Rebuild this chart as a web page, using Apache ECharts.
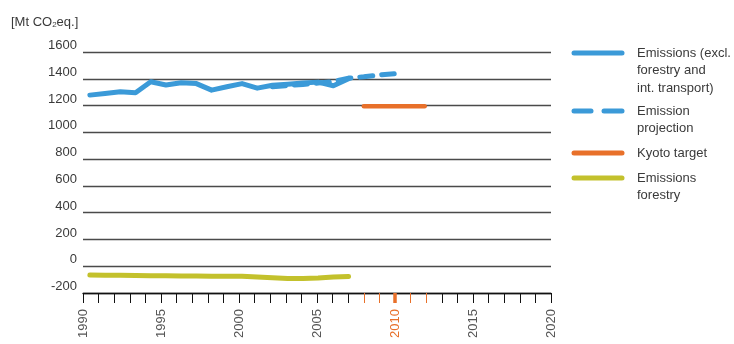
<!DOCTYPE html>
<html>
<head>
<meta charset="utf-8">
<script src="https://cdn.jsdelivr.net/npm/echarts@6/dist/echarts.min.js"></script>
<style>
  html, body { margin: 0; padding: 0; background: #fff; }
  #chart { width: 734px; height: 344px; }
</style>
</head>
<body>
<div id="chart"></div>
<script>
// Axis years 1990–2020 (tick every year, label every five)
const axisYears = [];
for (let y = 1990; y <= 2020; y++) axisYears.push(y);

// Greenhouse gas emissions, Mt CO2 eq.
const emissionYears = [1990, 1991, 1992, 1993, 1994, 1995, 1996, 1997, 1998,
                       1999, 2000, 2001, 2002, 2003, 2004, 2005, 2006, 2007];
const emissions = [1278, 1290, 1303, 1296, 1378, 1354, 1370, 1364, 1315,
                   1340, 1364, 1330, 1352, 1360, 1368, 1375, 1348, 1400];
const forestry = [-66, -67, -68, -69, -71, -72, -73, -73, -74,
                  -74, -75, -80, -86, -92, -92, -88, -80, -76];

const projectionYears = [2002, 2003, 2004, 2005, 2006, 2007, 2008, 2009, 2010];
const projection = [1340, 1350, 1358, 1368, 1380, 1405, 1415, 1428, 1438];

const kyotoYears = [2008, 2012];
const kyotoTarget = [1195, 1195];

const yTicks = { min: -200, max: 1600, step: 200 };

const BLUE = '#3b9ad8';
const ORANGE = '#e8702a';
const GREEN = '#c3c12c';
const TEXT = '#3a3a3a';
const FONT = '"Liberation Sans", Arial, Helvetica, sans-serif';

const pairs = (xs, ys) => xs.map((x, i) => [x, ys[i]]);
const kyotoSpan = y => y >= kyotoYears[0] && y <= kyotoYears[1];

const tickAxis = (filter, color, width) => ({
  type: 'category',
  data: axisYears.map(String),
  boundaryGap: false,
  position: 'bottom',
  axisLine: { show: false, onZero: false },
  axisTick: { show: true, length: 10, interval: (i) => filter(axisYears[i]),
              lineStyle: { color, width } },
  axisLabel: { show: false },
  splitLine: { show: false }
});

const chart = echarts.init(document.getElementById('chart'));

const lineSeries = (name, data, color, width, type) => ({
  name, type: 'line', xAxisIndex: 3, data,
  symbol: 'none', silent: true, z: 3,
  lineStyle: { color, width, type: type || 'solid', cap: 'round', join: 'round' }
});

// Legend drawn as a side panel: swatch and wrapped caption per entry
const legendEntries = [
  { lines: ['Emissions (excl.', 'forestry and', 'int. transport)'], color: BLUE, dashed: false, top: 53 },
  { lines: ['Emission', 'projection'], color: BLUE, dashed: true, top: 111 },
  { lines: ['Kyoto target'], color: ORANGE, dashed: false, top: 153 },
  { lines: ['Emissions', 'forestry'], color: GREEN, dashed: false, top: 178 }
];
const legendGraphics = [];
legendEntries.forEach(e => {
  const segs = e.dashed ? [[574, 591], [604, 622]] : [[574, 622]];
  segs.forEach(s => legendGraphics.push({
    type: 'line', shape: { x1: s[0], y1: e.top, x2: s[1], y2: e.top },
    style: { stroke: e.color, lineWidth: 5, lineCap: 'round' }, silent: true
  }));
  e.lines.forEach((t, k) => legendGraphics.push({
    type: 'text', x: 637, y: e.top + k * 17.5,
    style: { text: t, fill: TEXT, font: '13px ' + FONT, textVerticalAlign: 'middle' },
    silent: true
  }));
});

chart.setOption({
  animation: false,
  backgroundColor: '#fff',
  title: {
    text: '[Mt CO{sub|2}eq.]',
    left: 6, top: 10,
    textStyle: {
      fontFamily: FONT, fontSize: 13, fontWeight: 'normal', color: TEXT,
      rich: { sub: { fontFamily: FONT, fontSize: 8, color: TEXT, verticalAlign: 'bottom', padding: [6, 0, 0, 0] } }
    }
  },
  grid: { left: 83, right: 183, top: 52, bottom: 51, containLabel: false },
  xAxis: [
    {
      type: 'category',
      data: axisYears.map(String),
      boundaryGap: false,
      position: 'bottom',
      axisLine: { show: true, onZero: false, lineStyle: { color: '#111', width: 1.3 } },
      axisTick: { show: true, length: 10, interval: (i) => !kyotoSpan(axisYears[i]),
                  lineStyle: { color: '#111', width: 1 } },
      axisLabel: {
        interval: (i) => axisYears[i] % 5 === 0,
        rotate: 90, margin: 16,
        fontFamily: FONT, fontSize: 13,
        color: (v) => (Number(v) === 2010 ? ORANGE : '#555')
      },
      splitLine: { show: false }
    },
    tickAxis(y => kyotoSpan(y) && y !== 2010, ORANGE, 1),
    tickAxis(y => y === 2010, ORANGE, 3.5),
    { type: 'value', min: 1989.55, max: 2020.3, show: false, splitLine: { show: false } }
  ],
  yAxis: {
    type: 'value',
    min: yTicks.min, max: yTicks.max, interval: yTicks.step,
    axisLine: { show: false },
    axisTick: { show: false },
    axisLabel: {
      margin: 6, verticalAlign: 'bottom',
      fontFamily: FONT, fontSize: 13, color: TEXT,
      formatter: v => (v === yTicks.min ? '-200' : String(v))
    },
    splitLine: { show: true, lineStyle: { color: '#4a4a4a', width: 1.3 } }
  },
  series: [
    lineSeries('Emissions forestry', pairs(emissionYears, forestry), GREEN, 5),
    lineSeries('Emissions (excl. forestry and int. transport)', pairs(emissionYears, emissions), BLUE, 5),
    lineSeries('Emission projection', pairs(projectionYears, projection), BLUE, 5, [13, 9]),
    lineSeries('Kyoto target', pairs(kyotoYears, kyotoTarget), ORANGE, 4.5)
  ],
  graphic: legendGraphics
});
</script>
</body>
</html>
